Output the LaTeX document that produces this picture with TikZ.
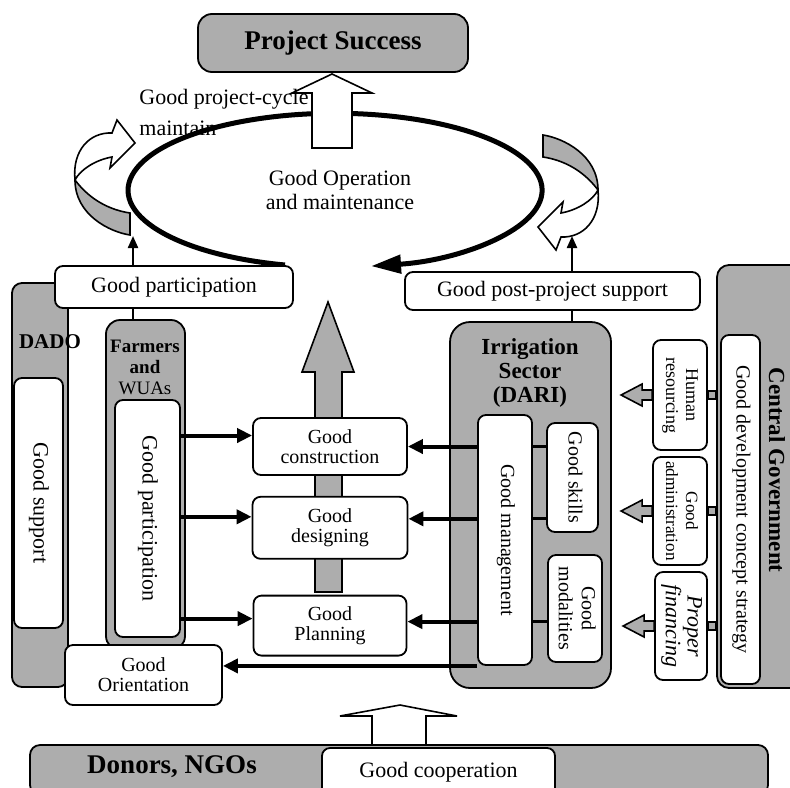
\documentclass[tikz,border=0pt]{standalone}
\usepackage{fontspec}
\setmainfont{Liberation Serif}
\usepackage{graphicx}
\usepackage{tikz}
\usetikzlibrary{calc,positioning,arrows.meta}
\definecolor{shade}{gray}{0.68}
\tikzstyle{block} = [rectangle, draw, line width=0.9pt, rounded corners=4pt, fill=white, align=center, inner sep=1pt, font=\fontsize{10}{10}\selectfont]
\tikzstyle{panel} = [rectangle, draw, line width=0.9pt, rounded corners=6pt, fill=shade]
\tikzstyle{headtext} = [align=center, inner sep=0pt, font=\bfseries\fontsize{11.5}{11.8}\selectfont]
\tikzstyle{flow} = [line width=2pt, -{Triangle[length=7.5pt,width=7pt]}]
\tikzstyle{feed} = [line width=1.1pt, -{Triangle[length=6pt,width=5pt]}]
\tikzstyle{link} = [line width=1.5pt]
\tikzstyle{hollow} = [draw, line width=0.8pt, fill=white]
\newcommand{\vtext}[1]{\rotatebox{-90}{\begin{tabular}{@{}c@{}}#1\end{tabular}}}

\begin{document}
\begin{tikzpicture}[x=0.5pt, y=-0.5pt]
  \useasboundingbox (0,0) rectangle (790,787);
  \clip (0,0) rectangle (790,787);
  %
  % project cycle
  \draw[line width=2.5pt, -{Triangle[length=15pt,width=9pt]}] (285,265) arc[start angle=104, end angle=440, x radius=207, y radius=77];
  \node[anchor=west, align=left, inner sep=0pt, font=\fontsize{11}{15.5}\selectfont] (CycleText) at (139,112) {Good project-cycle\\maintain};
  \draw[hollow] (312,148) -- (312,93) -- (292,93) -- (332,74) -- (372,93) -- (352,93) -- (352,148) -- cycle;
  \node[panel, rounded corners=7pt, minimum width=135pt, minimum height=29pt, font=\bfseries\fontsize{13.5}{14}\selectfont] (ProjectSuccess) at (333,43) {Project Success};
  \node[align=center, font=\fontsize{11}{12}\selectfont] (Operation) at (340,190) {Good Operation\\and maintenance};
  %
  % curled arrows
  \foreach \cx/\cy/\ang in {75/180/0, 598/190/180} {
    \begin{scope}[shift={(\cx,\cy)}, rotate=\ang]
      \draw[hollow, fill=shade] (0,0) .. controls (15,20) and (35,30) .. (55,33) -- (55,55) .. controls (35,52) and (0,35) .. (0,0) -- cycle;
      \draw[hollow] (0,0) .. controls (-3,-30) and (15,-48) .. (37,-47) -- (42,-60) -- (60,-37) -- (35,-12) -- (37,-23) .. controls (20,-20) and (5,-10) .. (0,0) -- cycle;
    \end{scope}
  }
  %
  % actors
  \node[panel, rounded corners=5pt, minimum width=28pt, minimum height=202pt] (DADO) at (40,485) {};
  \node[panel, rounded corners=7pt, minimum width=39.5pt, minimum height=165pt] (Farmers) at (145.5,485) {};
  \node[panel, rounded corners=10pt, minimum width=80.5pt, minimum height=183pt] (Irrigation) at (530.5,505) {};
  \node[panel, rounded corners=6pt, minimum width=46.5pt, minimum height=211.5pt] (Central) at (763.5,476.5) {};
  \node[headtext, font=\bfseries\fontsize{10.5}{11}\selectfont] (DADOText) at (50,342) {DADO};
  \node[headtext, font=\bfseries\fontsize{9.5}{10.5}\selectfont] (FarmersText) at (145,367) {Farmers\\and\\\mdseries WUAs};
  \node[headtext] (IrrigationText) at (530,373) {Irrigation\\Sector\\(DARI)};
  \node[headtext, rotate=-90] (CentralText) at (777,470) {Central Government};
  %
  \draw[fill=shade, line width=0.8pt] (315,592) -- (315,372) -- (302,372) -- (328,302) -- (354,372) -- (342,372) -- (342,592) -- cycle;
  %
  \node[block, minimum width=119pt, minimum height=21pt, font=\fontsize{11}{12}\selectfont] (GoodParticipation) at (174,287) {Good participation};
  \node[block, minimum width=147.5pt, minimum height=19pt, font=\fontsize{11}{12}\selectfont] (PostSupport) at (552.5,291) {Good post-project support};
  \node[block, minimum width=24.5pt, minimum height=125pt, font=\fontsize{11}{12}\selectfont] (GoodSupport) at (38.5,503) {\vtext{Good support}};
  \node[block, minimum width=32.5pt, minimum height=118.5pt, font=\fontsize{11}{12}\selectfont] (FarmerParticipation) at (147.5,518.5) {\vtext{Good participation}};
  \node[block, minimum width=77pt, minimum height=28.5pt] (Construction) at (330,446.5) {Good\\construction};
  \node[block, minimum width=77.5pt, minimum height=31pt, below=10pt of Construction] (Designing) {Good\\designing};
  \node[block, minimum width=76.5pt, minimum height=30pt, below=17.5pt of Designing] (Planning) {Good\\Planning};
  \node[block, minimum width=27pt, minimum height=125pt] (Management) at (505,540) {\vtext{Good management}};
  \node[block, minimum width=25.5pt, minimum height=54.5pt] (Skills) at (572.5,477.5) {\vtext{Good skills}};
  \node[block, minimum width=27pt, minimum height=53.5pt, font=\fontsize{10}{11.5}\selectfont] (Modalities) at (575,608.5) {\vtext{Good\\modalities}};
  \node[block, minimum width=19.5pt, minimum height=174.5pt] (Strategy) at (740.5,509.5) {\vtext{Good development concept strategy}};
  \node[block, minimum width=27pt, minimum height=55pt, font=\fontsize{9}{10}\selectfont] (Human) at (680,395) {\vtext{Human\\resourcing}};
  \node[block, minimum width=27pt, minimum height=54pt, font=\fontsize{8.6}{10}\selectfont] (Admin) at (680,511) {\vtext{Good\\administration}};
  \node[block, minimum width=26pt, minimum height=54pt, font=\itshape\fontsize{11}{10.5}\selectfont] (Financing) at (681,626) {\vtext{Proper\\financing}};
  \node[block, minimum width=78.5pt, minimum height=30pt] (Orientation) at (143.5,675) {Good\\Orientation};
  %
  % connectors
  \coordinate (LeftCurl) at (133,236);
  \coordinate (RightCurl) at (572,236);
  \draw[feed] (GoodParticipation.north -| LeftCurl) -- (LeftCurl);
  \draw[feed] (PostSupport.north -| RightCurl) -- (RightCurl);
  \draw[line width=0.9pt] (GoodParticipation.south -| LeftCurl) -- (Farmers.north -| LeftCurl);
  \draw[line width=0.9pt] (PostSupport.south -| RightCurl) -- (Irrigation.north -| RightCurl);
  \foreach \target/\dy in {Construction/5.5pt, Designing/5.5pt, Planning/3.5pt}
    \draw[flow] ([yshift=\dy]\target.west -| FarmerParticipation.east) -- ([yshift=\dy]\target.west);
  \foreach \target/\dy/\src in {Construction/0pt/Skills, Designing/4.5pt/Skills, Planning/2pt/Modalities} {
    \draw[flow] ([yshift=\dy]\target.east -| Management.west) -- ([yshift=\dy]\target.east);
    \draw[link] ([yshift=\dy]\target.east -| \src.west) -- ([yshift=\dy]\target.east -| Management.east);
  }
  \draw[flow] (Management.south west) -- (Orientation.east |- Management.south west);
  \foreach \src in {Human, Admin, Financing} {
    \draw[fill=shade, line width=0.8pt] ($(\src.west)+(0,-5)$) -- ++(-10,0) -- ++(0,-6) -- ++(-21,11) -- ++(21,11) -- ++(0,-6) -- ++(10,0) -- cycle;
    \draw[fill=shade, line width=0.8pt] ($(\src.east)+(0,-4)$) rectangle ($(Central.west |- \src.east)+(0,4)$);
  }
  %
  % donors
  \draw[hollow] (372,746) -- (372,716) -- (340,716) -- (400,705) -- (457,716) -- (426,716) -- (426,746);
  \node[panel, rounded corners=5pt, minimum width=369pt, minimum height=25pt] (Donors) at (399,770) {};
  \node[font=\bfseries\fontsize{13.5}{14}\selectfont] (DonorsText) at (172,767) {Donors, NGOs};
  \node[block, minimum width=116.5pt, minimum height=24pt, font=\fontsize{11}{12}\selectfont] (Cooperation) at (438.5,772) {Good cooperation};
\end{tikzpicture}
\end{document}
